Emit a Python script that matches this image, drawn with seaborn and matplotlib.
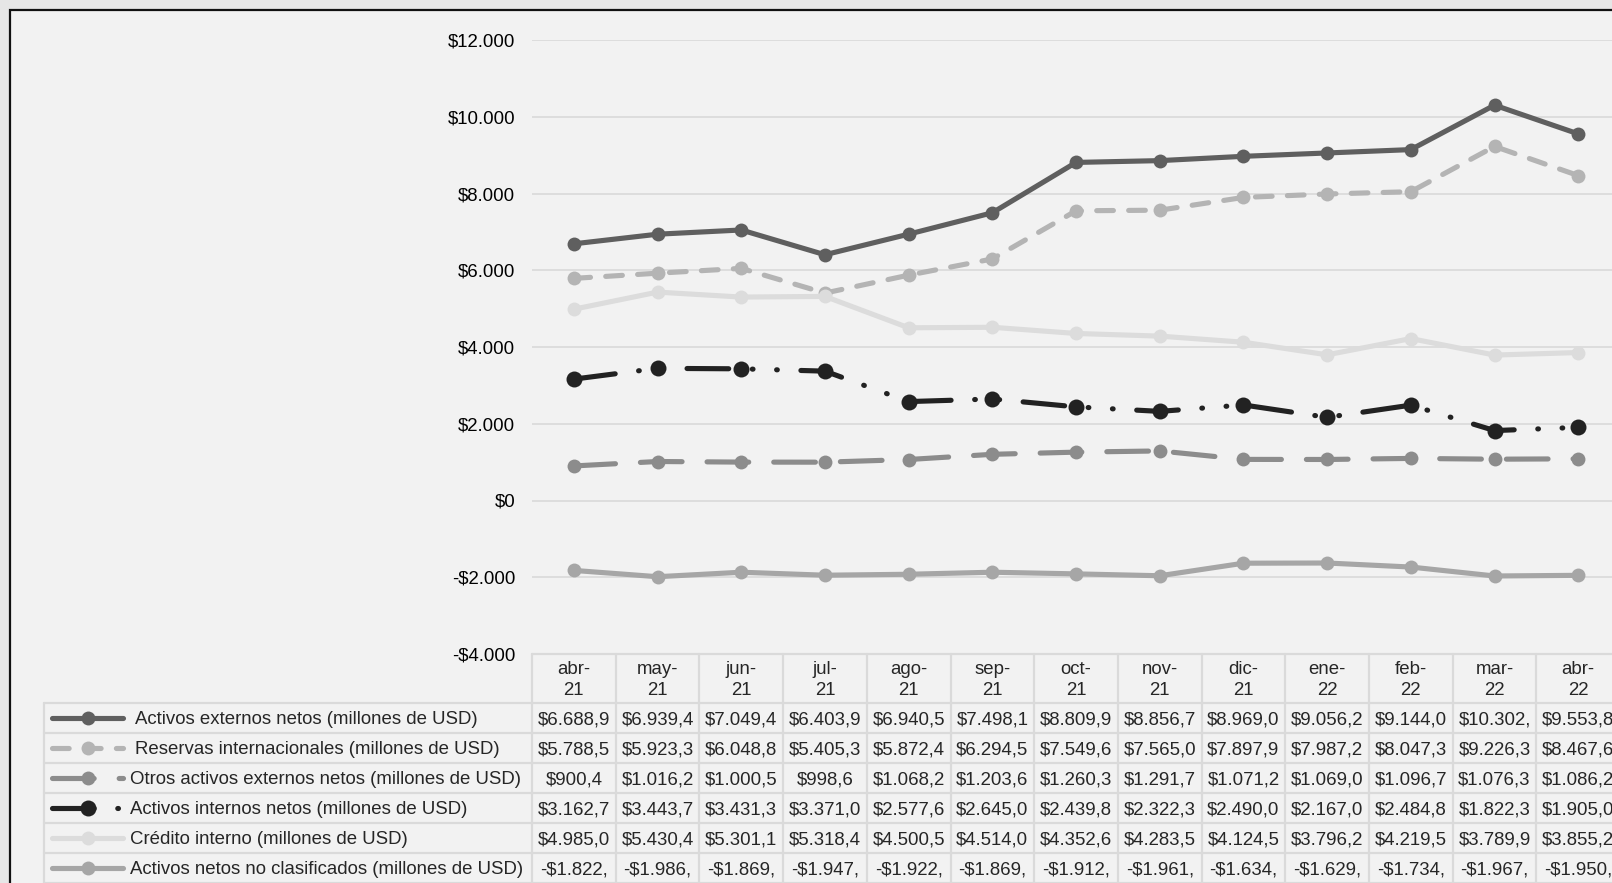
import matplotlib
matplotlib.use('Agg')
import seaborn as sns

from matplotlib import pyplot as plt
from matplotlib import transforms
from matplotlib.lines import Line2D
from matplotlib.patches import Rectangle
from matplotlib.ticker import FuncFormatter, MultipleLocator

# -------------------------------------------
# data

meses = ['abr-\n21', 'may-\n21', 'jun-\n21', 'jul-\n21', 'ago-\n21', 'sep-\n21', 'oct-\n21',
         'nov-\n21', 'dic-\n21', 'ene-\n22', 'feb-\n22', 'mar-\n22', 'abr-\n22']

nombres = ['Activos externos netos (millones de USD)',
           'Reservas internacionales (millones de USD)',
           'Otros activos externos netos (millones de USD)',
           'Activos internos netos (millones de USD)',
           'Crédito interno (millones de USD)',
           'Activos netos no clasificados (millones de USD)']

activos_externos = [6688.9, 6939.4, 7049.4, 6403.9, 6940.5, 7498.1, 8809.9, 8856.7, 8969.0, 9056.2, 9144.0, 10302.0, 9553.8]
reservas = [5788.5, 5923.3, 6048.8, 5405.3, 5872.4, 6294.5, 7549.6, 7565.0, 7897.9, 7987.2, 8047.3, 9226.3, 8467.6]
otros_externos = [900.4, 1016.2, 1000.5, 998.6, 1068.2, 1203.6, 1260.3, 1291.7, 1071.2, 1069.0, 1096.7, 1076.3, 1086.2]
activos_internos = [3162.7, 3443.7, 3431.3, 3371.0, 2577.6, 2645.0, 2439.8, 2322.3, 2490.0, 2167.0, 2484.8, 1822.3, 1905.0]
credito_interno = [4985.0, 5430.4, 5301.1, 5318.4, 4500.5, 4514.0, 4352.6, 4283.5, 4124.5, 3796.2, 4219.5, 3789.9, 3855.2]
no_clasificados = [-1822.0, -1986.0, -1869.0, -1947.0, -1922.0, -1869.0, -1912.0, -1961.0, -1634.0, -1629.0, -1734.0, -1967.0, -1950.0]

series = [activos_externos, reservas, otros_externos, activos_internos, credito_interno, no_clasificados]

# -------------------------------------------
# styles

W, H = 1612, 883
estilos = [
    dict(color='#5f5f5f', linestyle='-', markersize=10),
    dict(color='#b4b4b4', linestyle=(0, (12, 11)), markersize=10),
    dict(color='#8c8c8c', linestyle=(0, (30, 18)), markersize=10),
    dict(color='#222222', linestyle=(0, (30, 17, 0.5, 17, 0.5, 17)), markersize=11.5),
    dict(color='#dcdcdc', linestyle='-', markersize=10),
    dict(color='#a6a6a6', linestyle='-', markersize=10),
]
texto_x = [135, 135, 130, 130, 130, 130]


def fy(px):
    return 1 - px / H


def fmt_celda(v):
    s = f'{abs(v):,.1f}'.replace(',', 'X').replace('.', ',').replace('X', '.')
    s = ('-$' if v < 0 else '$') + s
    return s[:8]


def fmt_eje(v, pos):
    s = f'{abs(v):,.0f}'.replace(',', '.')
    return ('-$' if v < 0 else '$') + s


sns.set_style('white')
plt.rcParams['font.family'] = ['Liberation Sans', 'DejaVu Sans']
plt.rcParams['font.size'] = 13.4
plt.rcParams['lines.scale_dashes'] = False

fig = plt.figure(figsize=(W / 100, H / 100), dpi=100, facecolor='#e6e6e6')
fig.add_artist(Rectangle((9.5 / W, -0.1), 1.2, 1 - 9.5 / H + 0.1, transform=fig.transFigure,
                         facecolor='#f2f2f2', edgecolor='#111111', lw=1.6, zorder=0))

col_w = 83.7
ax = fig.add_axes([532 / W, (H - 654) / H, 13 * col_w / W, (654 - 40) / H])
ax.patch.set_alpha(0)

x = list(range(len(meses)))
for valores, est in zip(series, estilos):
    sns.lineplot(x=x, y=valores, ax=ax, linewidth=3.7, marker='o', markeredgewidth=0,
                 dash_capstyle='round', solid_capstyle='round', legend=False, **est)

ax.set_xlim(-0.5, len(meses) - 0.5)
ax.set_ylim(-4000, 12000)
ax.yaxis.set_major_locator(MultipleLocator(2000))
ax.yaxis.set_major_formatter(FuncFormatter(fmt_eje))
ax.grid(axis='y', color='#d9d9d9', lw=1.2)
ax.set_axisbelow(True)
ax.set_xticks([])
ax.tick_params(axis='y', length=0, pad=12, labelcolor='#000000')
ax.set_xlabel('')
ax.set_ylabel('')
for s in ax.spines.values():
    s.set_visible(False)

# -------------------------------------------
# data table

linea_c = '#dadada'
tr = transforms.blended_transform_factory(ax.transData, fig.transFigure)
filas = [703, 733, 763, 793, 823, 853]
alto = 30

fig.add_artist(Line2D([-0.5, len(meses) + 1], [fy(654)] * 2, transform=tr, color=linea_c, lw=1.6))
for y in filas + [883]:
    fig.add_artist(Line2D([44 / W, 1.0], [fy(y)] * 2, transform=fig.transFigure, color=linea_c, lw=1.6))
fig.add_artist(Line2D([44 / W] * 2, [fy(703), fy(890)], transform=fig.transFigure, color=linea_c, lw=1.6))
for k in range(len(meses) + 1):
    fig.add_artist(Line2D([k - 0.5] * 2, [fy(654), fy(890)], transform=tr, color=linea_c, lw=1.6))

for k, mes in enumerate(meses):
    fig.text(k, fy(680), mes, transform=tr, ha='center', va='center', linespacing=1.28)

for fila, nombre, valores, est, tx in zip(filas, nombres, series, estilos, texto_x):
    yc = fy(fila + alto / 2)
    fig.text(tx / W, yc, nombre, ha='left', va='center_baseline')
    fig.add_artist(Line2D([52 / W, 88 / W, 123 / W], [yc] * 3, transform=fig.transFigure,
                          linewidth=3.7, marker='o', markevery=[1], markeredgewidth=0,
                          dash_capstyle='round', solid_capstyle='round', **est))
    for k, v in enumerate(valores):
        fig.text(k, yc, fmt_celda(v), transform=tr, ha='center', va='center_baseline')

plt.savefig('out.png', dpi=100, facecolor=fig.get_facecolor())
